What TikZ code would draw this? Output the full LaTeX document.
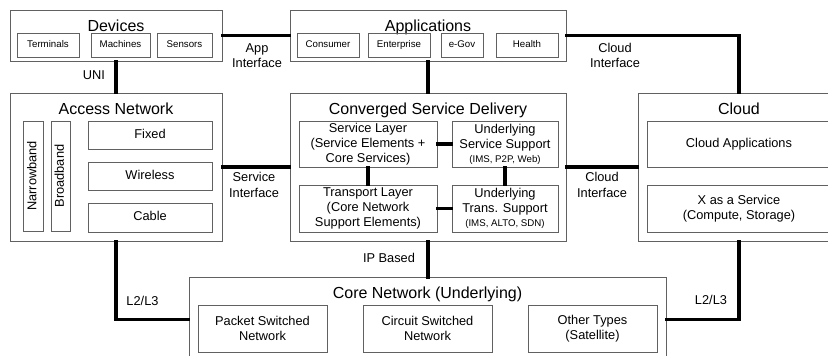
\documentclass[tikz,border=0pt]{standalone}
\usepackage{fontspec}
\setmainfont{Liberation Sans}
\begin{document}
\begin{tikzpicture}[x=1pt,y=-1pt,
  box/.style={draw=black!62, line width=0.9pt, inner sep=0pt, align=center,
              font=\fontsize{12.8}{15.2}\selectfont},
  oneline/.style={box, text height=9.2pt, text depth=2.6pt},
  smallbox/.style={box, font=\fontsize{9.7}{11.5}\selectfont, text height=7pt, text depth=2pt},
  title/.style={anchor=base, inner sep=0pt, font=\fontsize{16}{19}\selectfont},
  lbl/.style={inner sep=0pt, align=center, font=\fontsize{12.8}{15.5}\selectfont},
  link/.style={line width=3.2pt, line cap=rect}]
\useasboundingbox (0,0) rectangle (828,356);
\clip (0,0) rectangle (828,356);

% ---- Devices
\node[box, minimum width=212, minimum height=51] (dev) at (116,35.5) {};
\node[title] (devT) at (116,31.7) {Devices};
\node[smallbox, minimum width=62, minimum height=24] (term) at (48,45) {Terminals};
\node[smallbox, minimum width=59, minimum height=24] (mach) at (120.5,45) {Machines};
\node[smallbox, minimum width=55, minimum height=24] (sens) at (184.5,45) {Sensors};

% ---- Applications
\node[box, minimum width=276, minimum height=51] (app) at (428,35.5) {};
\node[title] (appT) at (428,31.7) {Applications};
\node[smallbox, minimum width=62, minimum height=24] (cons) at (328,45) {Consumer};
\node[smallbox, minimum width=62, minimum height=24] (ent) at (399,45) {Enterprise};
\node[smallbox, minimum width=42, minimum height=24] (egov) at (462,45) {e-Gov};
\node[smallbox, minimum width=62, minimum height=24] (hlth) at (527,45) {Health};

% ---- Access Network
\node[box, minimum width=212, minimum height=148] (acc) at (116,167) {};
\node[title] (accT) at (116,114.4) {Access Network};
\node[oneline, minimum width=110, minimum height=20, rotate=90] (narrow) at (33,176) {Narrowband};
\node[oneline, minimum width=110, minimum height=19, rotate=90] (broad) at (60.5,176) {Broadband};
\node[oneline, minimum width=124, minimum height=28] (fixed) at (150,135) {Fixed};
\node[oneline, minimum width=124, minimum height=28] (wless) at (150,176) {Wireless};
\node[oneline, minimum width=124, minimum height=29] (cable) at (150,217.5) {Cable};

% ---- Converged Service Delivery
\node[box, minimum width=276, minimum height=148] (csd) at (428,167) {};
\node[title] (csdT) at (428,114.4) {Converged Service Delivery};
\node[box, minimum width=138, minimum height=46] (sl) at (368,144)
  {Service Layer\\(Service Elements +\\Core Services)};
\node[box, minimum width=106, minimum height=46] (uss) at (505,144)
  {Underlying\\Service Support\\[-1.5pt]{\fontsize{9.7}{11.5}\selectfont (IMS, P2P, Web)}};
\node[box, minimum width=138, minimum height=47] (tl) at (368,208.5)
  {Transport Layer\\(Core Network\\Support Elements)};
\node[box, minimum width=106, minimum height=47] (uts) at (505,208.5)
  {Underlying\\Trans. Support\\[-1.5pt]{\fontsize{9.7}{11.5}\selectfont (IMS, ALTO, SDN)}};

% ---- Cloud
\node[box, minimum width=202, minimum height=148] (cloud) at (739,167) {};
\node[title] (cloudT) at (739,114.4) {Cloud};
\node[oneline, minimum width=184, minimum height=46] (capp) at (739,144) {Cloud Applications};
\node[box, minimum width=184, minimum height=47] (xaas) at (739,208.5) {X as a Service\\(Compute, Storage)};

% ---- Core Network
\node[box, minimum width=477, minimum height=84] (core) at (427.5,319.5) {};
\node[title] (coreT) at (427.5,298.5) {Core Network (Underlying)};
\node[box, minimum width=129, minimum height=47] (psn) at (262.5,328.5) {Packet Switched\\Network};
\node[box, minimum width=129, minimum height=47] (csn) at (427.5,328.5) {Circuit Switched\\Network};
\node[box, minimum width=129, minimum height=47] (oth) at (592.5,328.5) {Other Types\\(Satellite)};

% ---- interfaces between blocks
\draw[link] (dev.south) -- (acc.north);
\draw[link] (dev.east) -- (app.west);
\draw[link] (app.south) -- (csd.north);
\draw[link] (app.east) -| (cloud.north);
\draw[link] (acc.east) -- (csd.west);
\draw[link] (csd.east) -- (cloud.west);
\draw[link] (csd.south) -- (csd.south |- core.north);
\draw[link] (acc.south) |- (core.west);
\draw[link] (cloud.south) |- (core.east);

% ---- links inside the service delivery block
\draw[link] (sl.east) -- (uss.west);
\draw[link] (sl.south) -- (tl.north);
\draw[link] (uss.south) -- (uts.north);
\draw[link] (tl.east) -- (uts.west);

% ---- interface labels
\node[lbl] (lUNI) at (94,75) {UNI};
\node[lbl] (lApp) at (257,55.5) {App\\Interface};
\node[lbl] (lCloudTop) at (615,55.5) {Cloud\\Interface};
\node[lbl] (lSvc) at (254,185) {Service\\Interface};
\node[lbl] (lCloudMid) at (602,185) {Cloud\\Interface};
\node[lbl] (lIP) at (389,258) {IP Based};
\node[lbl] (lL2a) at (142.5,301) {L2/L3};
\node[lbl] (lL2b) at (711,300) {L2/L3};
\end{tikzpicture}
\end{document}
